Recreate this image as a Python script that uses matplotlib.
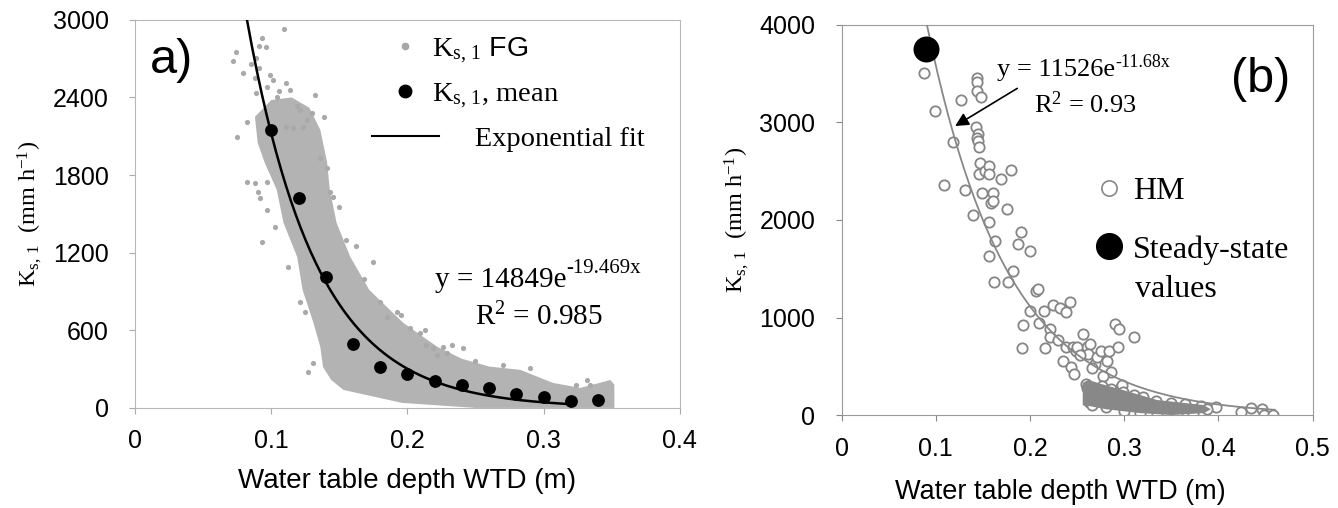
import numpy as np
import matplotlib
matplotlib.use("Agg")
import matplotlib.pyplot as plt
from matplotlib.lines import Line2D

plt.rcParams['font.family'] = ['Liberation Sans', 'DejaVu Sans']
plt.rcParams['mathtext.fontset'] = 'custom'
plt.rcParams['mathtext.rm'] = 'Liberation Serif'
plt.rcParams['mathtext.it'] = 'Liberation Serif:italic'
plt.rcParams['mathtext.bf'] = 'Liberation Serif:bold'
plt.rcParams['mathtext.sf'] = 'Liberation Sans'

# ---- panel a) data (read off the picture) ----
# outline of the dense FG cloud
cloud_x = [0.088, 0.100, 0.115, 0.128, 0.136, 0.141, 0.143, 0.148, 0.158, 0.172, 0.197, 0.222, 0.240, 0.260,
           0.283, 0.307, 0.327, 0.341, 0.349, 0.352, 0.352, 0.250, 0.196, 0.153, 0.144, 0.138, 0.136, 0.131,
           0.123, 0.119, 0.109, 0.104, 0.095, 0.090]
cloud_y = [2250, 2380, 2400, 2320, 2150, 1900, 1686, 1430, 1168, 912, 657, 472, 380, 320,
           294, 193, 155, 193, 216, 180, 0, 0, 39, 139, 216, 317, 472, 657,
           912, 1168, 1430, 1686, 1900, 2050]
# scattered FG points around the dense cloud
fg_x = [0.109, 0.093, 0.091, 0.096, 0.074, 0.072, 0.085, 0.089, 0.079, 0.091, 0.099, 0.101, 0.111, 0.088,
        0.089, 0.097, 0.104, 0.119, 0.121, 0.130, 0.082, 0.075, 0.126, 0.123, 0.116, 0.111, 0.136, 0.141,
        0.143, 0.145, 0.082, 0.088, 0.090, 0.097, 0.092, 0.097, 0.093, 0.103, 0.112, 0.121, 0.125, 0.131,
        0.127, 0.175, 0.162, 0.180, 0.195, 0.192, 0.202, 0.209, 0.213, 0.241, 0.226, 0.233, 0.214, 0.219,
        0.222, 0.229, 0.324, 0.332, 0.334, 0.106, 0.114, 0.132, 0.139, 0.150, 0.155, 0.168, 0.185, 0.250,
        0.270, 0.290]
fg_y = [2930, 2860, 2800, 2790, 2750, 2680, 2660, 2705, 2590, 2630, 2575, 2535, 2515, 2550,
        2435, 2480, 2400, 2330, 2305, 2280, 2210, 2095, 2225, 2175, 2165, 2175, 1933, 1855,
        1670, 1630, 1745, 1740, 1670, 1745, 1624, 1530, 1283, 1400, 1090, 820, 742, 348,
        278, 1130, 1252, 820, 719, 742, 619, 580, 603, 464, 472, 487, 487, 464,
        410, 425, 178, 216, 178, 2450, 2460, 2420, 2250, 1550, 1300, 1000, 700, 360,
        330, 310]
# means
mean_x = [0.10, 0.12, 0.14, 0.16, 0.18, 0.20, 0.22, 0.24, 0.26, 0.28, 0.30, 0.32, 0.34]
mean_y = [2150, 1620, 1010, 495, 315, 262, 205, 180, 155, 108, 84, 50, 58]
fit_a = (14849, -19.469)
fit_a_range = (0.0822, 0.32)

# ---- panel (b) data ----
hm_x = [0.087, 0.099, 0.109, 0.118, 0.127, 0.131, 0.140, 0.1435, 0.144, 0.144, 0.148, 0.1426, 0.145, 0.144,
        0.145, 0.146, 0.147, 0.1456, 0.152, 0.156, 0.157, 0.149, 0.161, 0.159, 0.161, 0.169, 0.180, 0.176,
        0.156, 0.163, 0.156, 0.162, 0.177, 0.182, 0.190, 0.187, 0.2005, 0.191, 0.193, 0.200, 0.206, 0.208,
        0.210, 0.216, 0.215, 0.221, 0.221, 0.224, 0.232, 0.2385, 0.242, 0.230, 0.2355, 0.2385, 0.246, 0.244,
        0.247, 0.249, 0.256, 0.260, 0.264, 0.262, 0.269, 0.271, 0.275, 0.282, 0.286, 0.284, 0.290, 0.295,
        0.293, 0.310, 0.297, 0.398, 0.424, 0.435, 0.446, 0.448, 0.458, 0.250, 0.253, 0.266, 0.278, 0.2975]
hm_y = [3511, 3119, 2360, 2804, 3235, 2306, 2053, 3453, 3416, 3324, 3262, 2955, 2880, 2838,
        2811, 2750, 2589, 2470, 2504, 2555, 2470, 2272, 2272, 2179, 2196, 2418, 2511, 2111,
        1981, 1787, 1633, 1366, 1360, 1472, 1872, 1752, 1677, 683, 922, 1069, 1274, 1291,
        939, 683, 1069, 881, 796, 1131, 1096, 1052, 1155, 769, 557, 693, 693, 488,
        420, 659, 830, 693, 727, 625, 523, 591, 659, 557, 437, 659, 932, 881,
        693, 796, 283, 79, 27, 72, 61, 5, 5, 700, 620, 480, 400, 308]
# dense HM cluster near the bottom: outline and edge circles
clu_x = [0.256, 0.256, 0.262, 0.275, 0.299, 0.335, 0.384, 0.392, 0.385, 0.350, 0.317, 0.280, 0.264]
clu_y = [100, 330, 360, 320, 256, 154, 103, 60, 20, 0, 20, 60, 90]
cle_x = [0.259, 0.261, 0.266, 0.276, 0.286, 0.299, 0.310, 0.320, 0.334, 0.350, 0.365, 0.382, 0.388,
         0.263, 0.266, 0.281, 0.300, 0.317, 0.335, 0.356, 0.373]
cle_y = [320, 280, 240, 300, 270, 235, 210, 180, 140, 125, 110, 90, 60,
         130, 105, 80, 45, 25, 15, 10, 20]
steady_x = [0.09]
steady_y = [3750]
fit_b = (11526, -11.68)
fit_b_range = (0.0906, 0.46)

fig = plt.figure(figsize=(13.38, 5.08), dpi=100)
ax1 = fig.add_axes([0.101, 0.197, 0.407, 0.764])
ax2 = fig.add_axes([0.629, 0.183, 0.352, 0.768])

serif = ['Liberation Serif', 'DejaVu Serif']
ylab = r'K$_{\mathrm{s,\,1}}$  (mm h$^{\mathrm{-1}}$)'

# ---------- panel a ----------
ax1.fill(cloud_x, cloud_y, color='#b3b3b3', lw=0, zorder=1)
ax1.scatter(fg_x, fg_y, s=14, color='#a9a9a9', lw=0, zorder=2)
xf = np.linspace(*fit_a_range, 200)
ax1.plot(xf, fit_a[0] * np.exp(fit_a[1] * xf), color='black', lw=1.8, zorder=3)
ax1.scatter(mean_x, mean_y, s=85, color='black', lw=0, zorder=4)

ax1.set_xlim(0, 0.4)
ax1.set_ylim(0, 3000)
ax1.set_xticks([0, 0.1, 0.2, 0.3, 0.4])
ax1.set_xticklabels(['0', '0.1', '0.2', '0.3', '0.4'])
ax1.set_yticks([0, 600, 1200, 1800, 2400, 3000])
ax1.tick_params(labelsize=18, length=4, color='#aaaaaa', pad=11)
ax1.tick_params(axis='y', pad=15)
for s in ax1.spines.values():
    s.set_color('#b8b8b8')
ax1.set_xlabel('Water table depth WTD (m)', fontsize=20, labelpad=11)
ax1.set_ylabel(ylab, fontsize=17.5, family=serif, labelpad=6)

ax1.text(0.0105, 2684, 'a)', fontsize=35, va='center', ha='left')
ta = ax1.text(0.22, 990, 'y = 14849e', fontsize=21, family=serif, va='center')
ax1.annotate('-19.469x', xy=(1, 0.95), xycoords=ta, fontsize=15, family=serif, va='center', ha='left')
ax1.text(0.2494, 706, r'R$^{2}$ = 0.985', fontsize=21, family=serif, va='center')

h1 = Line2D([], [], ls='none', marker='o', ms=4.5, color='#a6a6a6')
h2 = Line2D([], [], ls='none', marker='o', ms=9, color='black')
h3 = Line2D([], [], color='black', lw=1.5)
ax1.legend([h1, h2, h3],
           [r'K$_{\mathrm{s,\,1}}$ $\mathsf{FG}$', r'K$_{\mathrm{s,\,1}}$, mean', '      Exponential fit'],
           loc='upper left', bbox_to_anchor=(0.435, 0.96), frameon=False, borderpad=0, borderaxespad=0,
           prop={'family': serif, 'size': 20.5}, handlelength=2.35, handletextpad=-0.25, labelspacing=0.55)

# ---------- panel b ----------
ax2.scatter(hm_x, hm_y, s=55, facecolor='white', edgecolor='#858585', lw=1.3, zorder=2)
ax2.scatter(cle_x, cle_y, s=55, facecolor='white', edgecolor='#858585', lw=1.3, zorder=2)
ax2.fill(clu_x, clu_y, color='#888888', lw=0, zorder=2.5)
xb = np.linspace(*fit_b_range, 200)
ax2.plot(xb, fit_b[0] * np.exp(fit_b[1] * xb), color='#888888', lw=1.3, zorder=3)
ax2.scatter(steady_x, steady_y, s=350, color='black', lw=0, zorder=4)

ax2.set_xlim(0, 0.5)
ax2.set_ylim(0, 4000)
ax2.set_xticks([0, 0.1, 0.2, 0.3, 0.4, 0.5])
ax2.set_xticklabels(['0', '0.1', '0.2', '0.3', '0.4', '0.5'])
ax2.set_yticks([0, 1000, 2000, 3000, 4000])
ax2.tick_params(labelsize=18, length=4, color='#888888', pad=12)
ax2.tick_params(axis='y', pad=15)
for s in ax2.spines.values():
    s.set_color('#9a9a9a')
ax2.set_xlabel('Water table depth WTD (m)', fontsize=19.5, labelpad=14)
ax2.xaxis.set_label_coords(0.464, -0.165)
ax2.set_ylabel(ylab, fontsize=17.5, family=serif, labelpad=6)

ax2.text(0.4136, 3443, '(b)', fontsize=35, va='center', ha='left')
tb = ax2.text(0.165, 3540, 'y = 11526e', fontsize=19, family=serif, va='center')
ax2.annotate('-11.68x', xy=(1, 0.85), xycoords=tb, fontsize=13, family=serif, va='center', ha='left')
ax2.text(0.204, 3187, r'R$^{2}$ = 0.93', fontsize=19, family=serif, va='center')
ax2.annotate('', xy=(0.118, 2948), xytext=(0.189, 3364),
             arrowprops=dict(arrowstyle='-|>', color='black', lw=1.2, mutation_scale=20))

g1 = Line2D([], [], ls='none', marker='o', ms=11, mfc='white', mec='#888888', mew=1.2)
g2 = Line2D([], [], ls='none', marker='o', ms=18.5, color='black')
ax2.legend([g1, g2], ['HM', 'Steady-state'], loc='upper left', bbox_to_anchor=(0.541, 0.61),
           frameon=False, borderpad=0, borderaxespad=0, prop={'family': serif, 'size': 23},
           handlelength=0.8, handletextpad=0.35, labelspacing=0.9)
ax2.text(0.312, 1291, 'values', fontsize=23, family=serif, va='center', ha='left')

fig.savefig('out.png', dpi=100)
